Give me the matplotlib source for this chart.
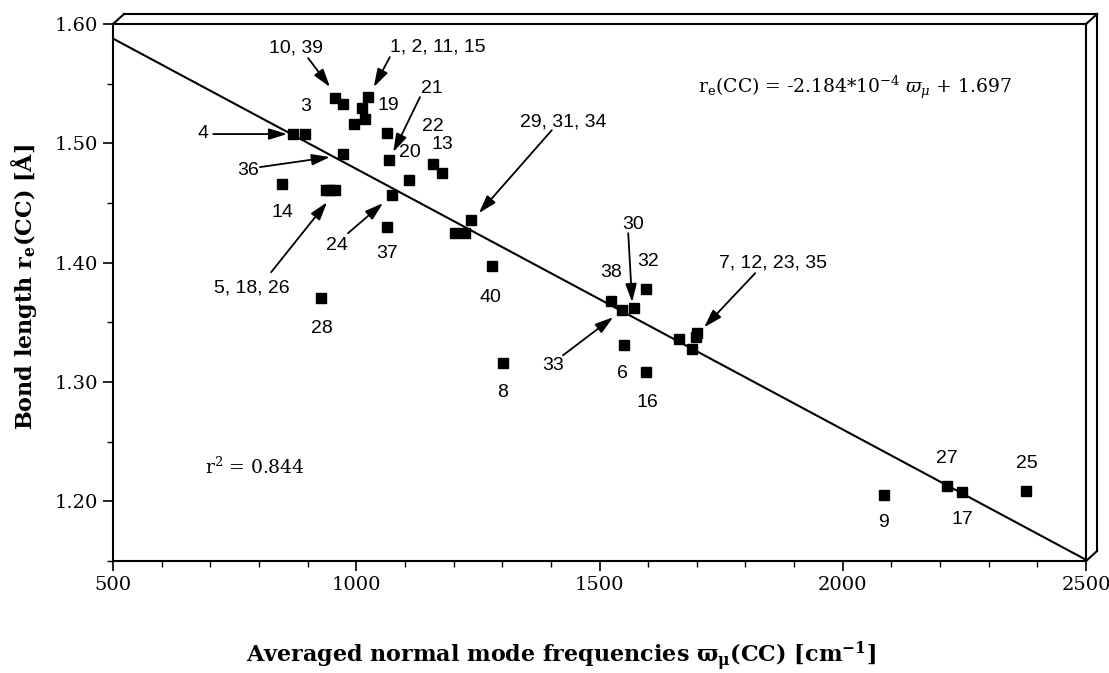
import matplotlib
matplotlib.use("Agg")
import matplotlib.pyplot as plt
import numpy as np
from matplotlib.ticker import MultipleLocator, FormatStrFormatter

# averaged normal mode frequencies (cm-1) and CC bond lengths (A)
freq = [956, 973, 1025, 1011, 1018, 995, 1063, 869, 895, 973,
        1067, 1158, 1177, 1108, 848, 938, 947, 956, 1073, 1235,
        1203, 1224, 1063, 1278, 928, 1301, 1524, 1546, 1570, 1595,
        1550, 1595, 1664, 1690, 1701, 1698, 2085, 2214, 2246, 2377]
bond = [1.538, 1.533, 1.539, 1.530, 1.520, 1.516, 1.509, 1.508, 1.508, 1.491,
        1.486, 1.483, 1.475, 1.469, 1.466, 1.461, 1.461, 1.461, 1.457, 1.436,
        1.425, 1.425, 1.430, 1.397, 1.370, 1.316, 1.368, 1.360, 1.362, 1.378,
        1.331, 1.308, 1.336, 1.328, 1.341, 1.338, 1.205, 1.213, 1.208, 1.209]

# regression line
slope = -2.184e-4
intercept = 1.697
r2 = 0.844

# point labels: text, x, y (data coords)
labels = [("10, 39", 876, 1.580), ("1, 2, 11, 15", 1168, 1.581), ("19", 1065, 1.532),
          ("3", 895, 1.531), ("21", 1156, 1.546), ("22", 1158, 1.514), ("13", 1178, 1.499),
          ("20", 1110, 1.492), ("4", 685, 1.508), ("36", 777, 1.477), ("14", 849, 1.442),
          ("24", 960, 1.414), ("37", 1063, 1.408), ("5, 18, 26", 786, 1.379), ("28", 930, 1.345),
          ("40", 1275, 1.371), ("29, 31, 34", 1425, 1.518), ("30", 1569, 1.432), ("32", 1600, 1.401),
          ("38", 1524, 1.392), ("33", 1404, 1.314), ("8", 1300, 1.291), ("7, 12, 23, 35", 1857, 1.400),
          ("6", 1548, 1.307), ("16", 1598, 1.283), ("27", 2214, 1.236), ("25", 2379, 1.232),
          ("9", 2083, 1.182), ("17", 2245, 1.185)]

# arrows: (tail x, tail y) -> (head x, head y)
arrows = [((901, 1.5715), (946, 1.5472)), ((1069, 1.5723), (1036, 1.5472)),
          ((1131, 1.5388), (1076, 1.4927)), ((706, 1.5078), (858, 1.5078)),
          ((802, 1.4801), (946, 1.4885)), ((825, 1.3920), (940, 1.4507)),
          ((983, 1.4247), (1055, 1.4499)), ((1402, 1.5111), (1252, 1.4415)),
          ((1559, 1.4247), (1567, 1.3669)), ((1425, 1.3224), (1528, 1.3543)),
          ((1820, 1.3912), (1715, 1.3459))]

plt.rcParams['mathtext.fontset'] = 'dejavuserif'

fig = plt.figure(figsize=(11.09, 6.73), dpi=100)
ax = fig.add_axes([0.1019, 0.1664, 0.8774, 0.7979])

xs = np.array([500, 2500])
ax.plot(xs, slope * xs + intercept, color='black', lw=1.5)
ax.plot(freq, bond, 's', color='black', markersize=7.5, ls='none')

for txt, x, y in labels:
    ax.text(x, y, txt, ha='center', va='center', fontsize=14, family='Liberation Sans')

for (x0, y0), (x1, y1) in arrows:
    ax.annotate('', xy=(x1, y1), xytext=(x0, y0),
                arrowprops=dict(arrowstyle='-|>,head_length=0.55,head_width=0.17',
                                mutation_scale=20, lw=1.3,
                                color='black', shrinkA=0, shrinkB=0))

ax.text(1702, 1.547, r'r$_{\mathrm{e}}$(CC) = -2.184*10$^{-4}$ $\varpi_{\mu}$ + 1.697',
        ha='left', va='center', fontsize=13.5, family='DejaVu Serif')
ax.text(689, 1.229, r'r$^{2}$ = %.3f' % r2, ha='left', va='center', fontsize=13.5,
        family='DejaVu Serif')

ax.set_xlim(500, 2500)
ax.set_ylim(1.15, 1.60)
ax.xaxis.set_major_locator(MultipleLocator(500))
ax.xaxis.set_minor_locator(MultipleLocator(100))
ax.yaxis.set_major_locator(MultipleLocator(0.1))
ax.yaxis.set_minor_locator(MultipleLocator(0.05))
ax.yaxis.set_major_formatter(FormatStrFormatter('%.2f'))
ax.tick_params(which='major', direction='out', length=7, width=1.2, labelsize=14)
ax.tick_params(which='minor', direction='out', length=4, width=1.0)
for lab in ax.get_xticklabels() + ax.get_yticklabels():
    lab.set_family('DejaVu Serif')
for sp in ax.spines.values():
    sp.set_linewidth(1.5)

# pseudo 3D box edges behind the plot face
dx, dy = 0.0113, 0.0186
box = [((0, 1), (dx, 1 + dy)), ((dx, 1 + dy), (1 + dx, 1 + dy)),
       ((1, 1), (1 + dx, 1 + dy)), ((1 + dx, 1 + dy), (1 + dx, dy)),
       ((1, 0), (1 + dx, dy))]
for (a, b), (c, d) in box:
    ax.plot([a, c], [b, d], color='black', lw=1.5, transform=ax.transAxes, clip_on=False)

fig.text(0.506, 0.024, r'Averaged normal mode frequencies $\mathbf{\varpi_{\mu}}$(CC) [cm$^{\mathbf{-1}}$]',
         ha='center', va='center', fontsize=16, fontweight='bold', family='DejaVu Serif')
fig.text(0.021, 0.574, r'Bond length r$_{\mathbf{e}}$(CC) [Å]', rotation=90,
         ha='center', va='center', fontsize=16, fontweight='bold', family='DejaVu Serif')

fig.savefig('out.png', dpi=100)
